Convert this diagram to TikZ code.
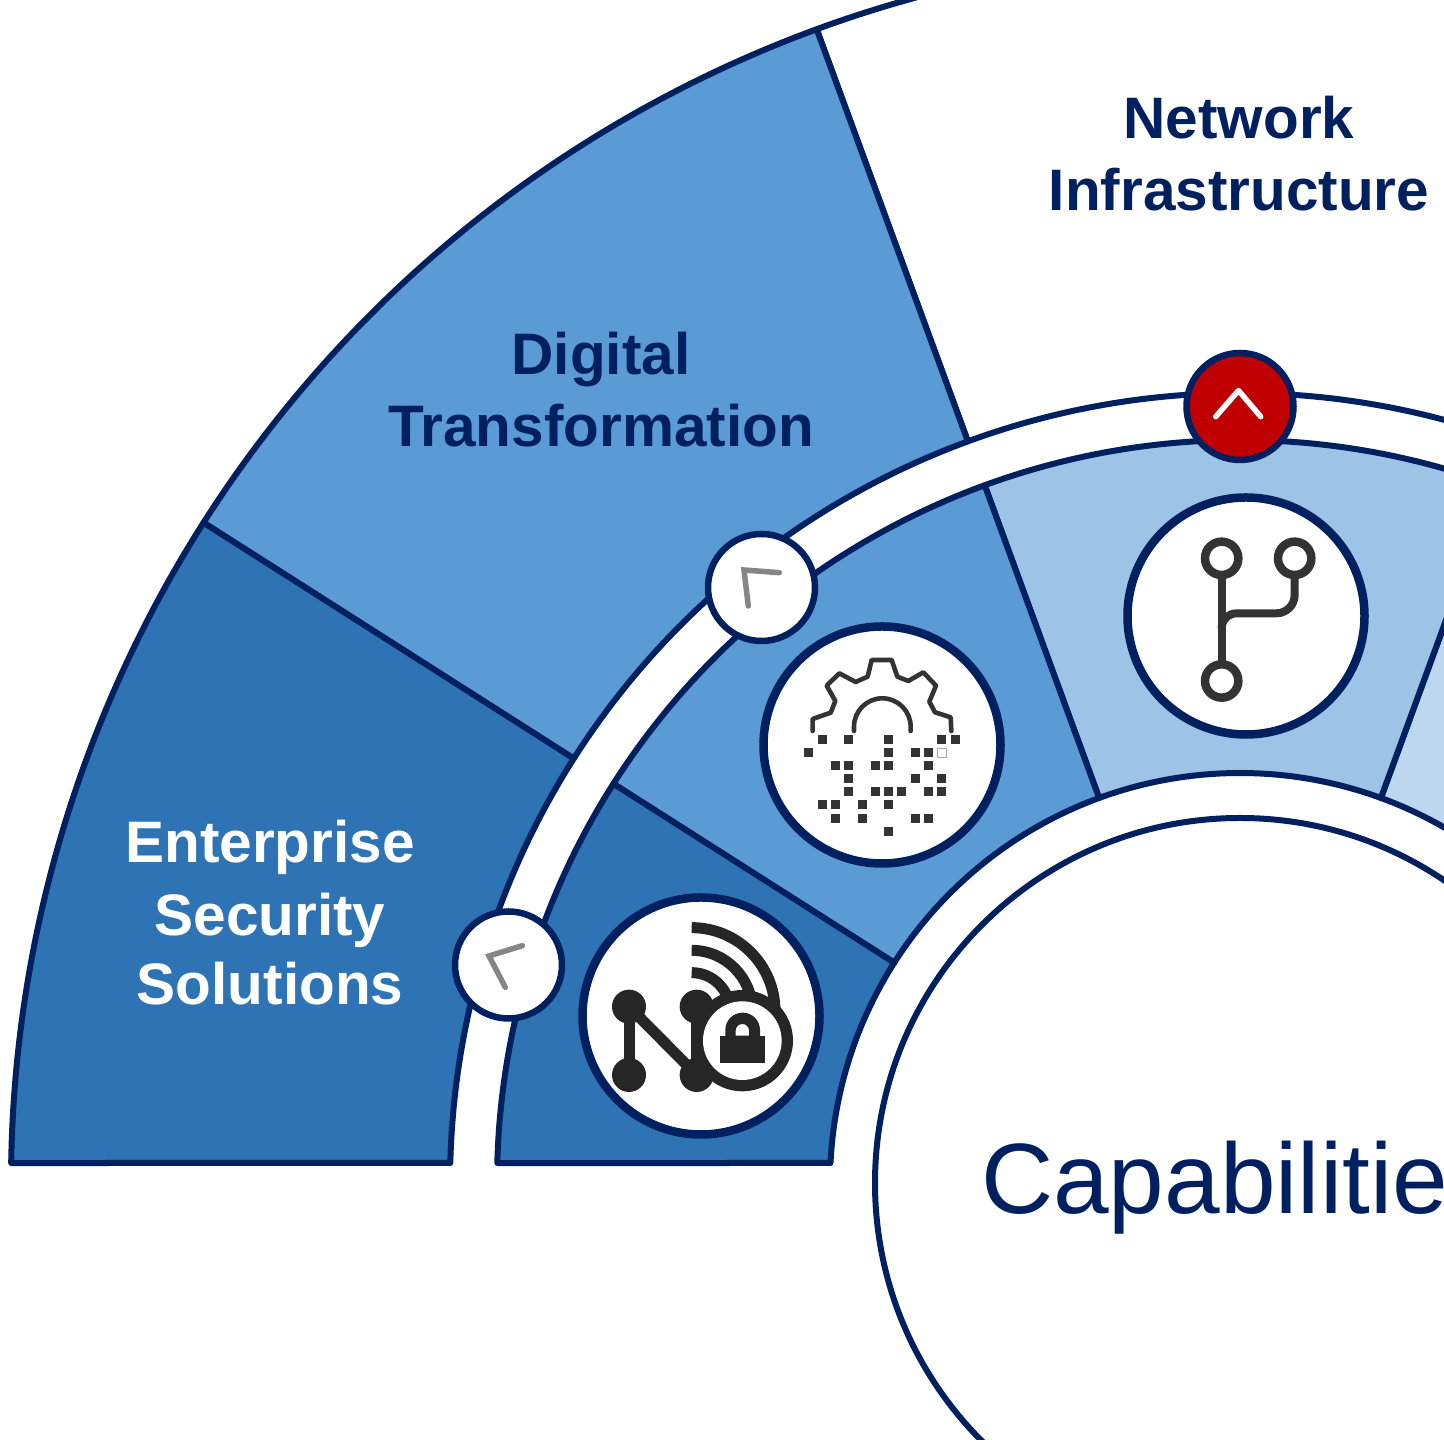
\documentclass[tikz,border=0pt]{standalone}
\usepackage{fontspec}
\setmainfont{Liberation Sans}
\definecolor{navy}{HTML}{002060}
\definecolor{secA}{HTML}{2E74B5}
\definecolor{secB}{HTML}{5B9BD5}
\definecolor{secC}{HTML}{9DC3E6}
\definecolor{secD}{HTML}{BDD7EE}
\definecolor{alarm}{HTML}{C00000}
\definecolor{inkA}{HTML}{262626}
\definecolor{inkB}{HTML}{333333}
\tikzset{
  sector/.style={draw=navy,line width=6pt,line join=round},
  iconring/.style={circle,draw=navy,fill=white,line width=8.5pt,minimum size=237pt,inner sep=0pt,outer sep=0pt},
  knob/.style={circle,draw=navy,line width=6.5pt,minimum size=107pt,inner sep=0pt,outer sep=0pt},
  chev/.style={line width=5.5pt,line cap=round,line join=miter},
  lab/.style={font=\fontsize{58.5}{72}\selectfont\bfseries,align=center,inner sep=0pt}
}
\begin{document}
\begin{tikzpicture}[x=1pt,y=1pt]
\useasboundingbox (0,0) rectangle (1444,1440);
\clip (0,0) rectangle (1444,1440);
\fill[white] (0,0) rectangle (1444,1440);
\begin{scope}[shift={(1240,257)}]
  % outer band
  \draw[sector,fill=white] (110.15:790) arc[start angle=110.15,end angle=50,radius=790] -- (50:1229) arc[start angle=50,end angle=110.15,radius=1229] -- cycle;
  \draw[sector,fill=secB] (147.5:790) arc[start angle=147.5,end angle=110.15,radius=790] -- (110.15:1229) arc[start angle=110.15,end angle=147.5,radius=1229] -- cycle;
  \draw[sector,fill=secA] (178.549:790) arc[start angle=178.549,end angle=147.5,radius=790] -- (147.5:1229) arc[start angle=147.5,end angle=179.068,radius=1229] -- cycle;
  % inner band
  \draw[sector,fill=secD] (69.9:410) arc[start angle=69.9,end angle=40,radius=410] -- (40:743) arc[start angle=40,end angle=69.9,radius=743] -- cycle;
  \draw[sector,fill=secC] (110.1:410) arc[start angle=110.1,end angle=69.9,radius=410] -- (69.9:743) arc[start angle=69.9,end angle=110.1,radius=743] -- cycle;
  \draw[sector,fill=secB] (147.5:410) arc[start angle=147.5,end angle=110.1,radius=410] -- (110.1:743) arc[start angle=110.1,end angle=147.5,radius=743] -- cycle;
  \draw[sector,fill=secA] (177.204:410) arc[start angle=177.204,end angle=147.5,radius=410] -- (147.5:743) arc[start angle=147.5,end angle=178.457,radius=743] -- cycle;
\end{scope}
% centre
\node[circle,draw=navy,fill=white,line width=6pt,minimum size=730pt,inner sep=0pt,outer sep=0pt] (hub) at (1240,257) {};
\node[font=\fontsize{100}{100}\selectfont,text=navy,anchor=base,inner sep=0pt] (hubtext) at (1239.5,226.5) {Capabilities};
% labels
\node[lab,text=navy] (netlab) at (1239,1286.5) {Network\\Infrastructure};
\node[lab,text=navy] (diglab) at (601,1050) {Digital\\Transformation};
\node[lab,text=white] (seclab) at (270,527.5) {Enterprise\\[0.5pt]Security\\[-3pt]Solutions};
% knobs
\node[knob,fill=alarm] (knobC) at (1240,1033.5) {};
\node[knob,fill=white] (knobB) at (761.5,852.5) {};
\node[knob,fill=white] (knobA) at (508.5,475) {};
\draw[chev,draw=white,line join=round] (1215.7,1023.3) -- (1238.5,1049.5) -- (1260.7,1023.3);
\draw[chev,draw=gray!95] (779.3,867.3) -- (744,870) -- (748.3,834);
\draw[chev,draw=gray!95] (522.3,494.3) -- (489,484) -- (505.3,452.7);
% icon rings
\node[iconring] (iconA) at (701,424) {};
\node[iconring] (iconB) at (882,695) {};
\node[iconring] (iconC) at (1246,824) {};
% icon A
\begin{scope}[shift={(570,550)},scale=1/3]
  \draw[inkA,line width=11pt] (177,-350) -- (177,-555);
  \draw[inkA,line width=11pt] (177,-350) -- (380,-555);
  \draw[inkA,line width=11pt] (380,-350) -- (380,-555);
  \foreach \p/\q in {177/350,380/350,177/555,380/555} \fill[inkA] (\p,-\q) circle[radius=51];
  \draw[inkA,line width=11pt] (365,-113) arc[start angle=90,end angle=0,radius=250];
  \draw[inkA,line width=11pt] (365,-181) arc[start angle=90,end angle=0,radius=182];
  \draw[inkA,line width=11pt] (365,-248) arc[start angle=90,end angle=0,radius=115];
  \fill[inkA] (517,-452) circle[radius=152];
  \fill[white] (517,-452) circle[radius=118];
  \fill[inkA] (449,-520) rectangle (585,-437);
  \fill[inkA,even odd rule] (466,-440) -- (466,-420) arc[start angle=180,end angle=0,radius=52] -- (570,-440) -- cycle
     (497,-437) -- (497,-422) arc[start angle=180,end angle=0,radius=20] -- (537,-437) -- cycle;
\end{scope}
% icon B
\begin{scope}[shift={(760,820)},scale=1/3]
  \draw[inkB,line width=4.6pt,line join=round,line cap=round] (158,-333) -- (158,-297) -- (212,-278) -- (226,-243) -- (200,-197) -- (238,-160) -- (287,-186) -- (323,-170) -- (335,-120) -- (395,-120) -- (412,-170) -- (445,-183) -- (490,-157) -- (528,-197) -- (508,-245) -- (525,-277) -- (572,-292) -- (574,-333);
  \draw[inkB,line width=4.6pt,line cap=round] (282,-333) -- (282,-320) arc[start angle=180,end angle=0,radius=85] -- (452,-333);
  \foreach \p/\q in {186/359,266/359,385/359,545/359,585/359,
    146/399,385/399,465/399,505/399,
    226/438,266/438,346/438,385/438,505/438,
    266/477,465/477,545/477,
    266/516,346/516,385/516,425/516,505/516,545/516,
    186/555,226/555,306/555,385/555,
    226/595,306/595,465/595,505/595,
    385/634}
    \fill[inkB] (\p-13.5,-\q-13.5) rectangle ++(27,27);
  \draw[gray!70,line width=0.8pt] (532,-412) rectangle (558,-386);
\end{scope}
% icon C
\begin{scope}[shift={(1120,1100)},scale=1/3]
  \draw[inkB,line width=8.5pt] (305,-655) circle[radius=50];
  \draw[inkB,line width=8.5pt] (524,-655) circle[radius=50];
  \draw[inkB,line width=8.5pt] (305,-1023) circle[radius=50];
  \draw[inkB,line width=8pt] (305,-705) -- (305,-973);
  \draw[inkB,line width=8pt] (524,-705) -- (524,-765) arc[start angle=0,end angle=-90,radius=55] -- (350,-820) arc[start angle=90,end angle=180,radius=45];
\end{scope}
\end{tikzpicture}
\end{document}
